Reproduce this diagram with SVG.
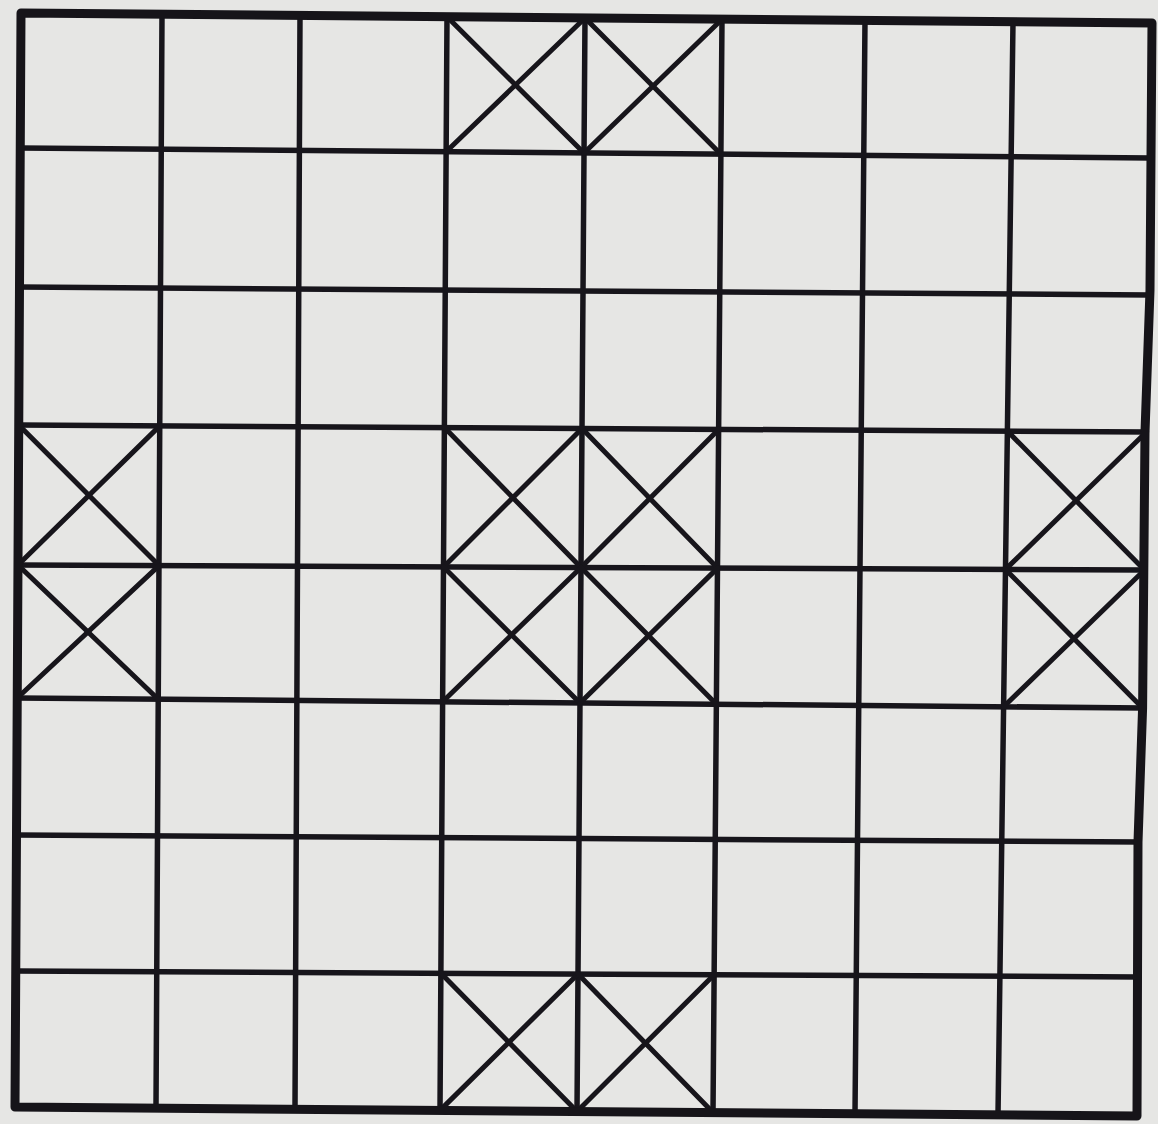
<svg xmlns="http://www.w3.org/2000/svg" width="1158" height="1124" viewBox="0 0 1158 1124">
<style>
.bg{fill:#e6e6e4}
.border{fill:none;stroke:#161419;stroke-width:9;stroke-linejoin:round}
.grid line{stroke:#17151b;stroke-width:5.5;stroke-linecap:round}
.cross line{stroke:#17151b;stroke-width:5;stroke-linecap:round}
</style>
<rect class="bg" x="0" y="0" width="1158" height="1124"/>
<g id="grid-lines" class="grid">
<line x1="162" y1="14.25" x2="156" y2="1108.1"/>
<line x1="300" y1="15.5" x2="295" y2="1109.25"/>
<line x1="447" y1="16.75" x2="440" y2="1110.4"/>
<line x1="585" y1="18" x2="577" y2="1111.5"/>
<line x1="722" y1="19.25" x2="713" y2="1112.6"/>
<line x1="865" y1="20.5" x2="855" y2="1113.75"/>
<line x1="1013" y1="21.75" x2="998" y2="1114.9"/>
<line x1="20.25" y1="148" x2="1150.1" y2="158"/>
<line x1="19.5" y1="287" x2="1149.5" y2="295"/>
<line x1="18.75" y1="425" x2="1146.4" y2="432"/>
<line x1="18" y1="565" x2="1144.5" y2="570"/>
<line x1="17.25" y1="698" x2="1142.6" y2="708"/>
<line x1="16.5" y1="835" x2="1139" y2="842"/>
<line x1="15.75" y1="971" x2="1138" y2="977"/>
</g>
<g id="crosses" class="cross">
<line x1="447" y1="16.75" x2="584" y2="153"/><line x1="585" y1="18" x2="446.1" y2="151.75"/>
<line x1="585" y1="18" x2="720.9" y2="154.25"/><line x1="722" y1="19.25" x2="584" y2="153"/>
<line x1="18.75" y1="425" x2="159" y2="565.6"/><line x1="159.75" y1="425.9" x2="18" y2="565"/>
<line x1="18" y1="565" x2="158.25" y2="699.25"/><line x1="159" y1="565.6" x2="17.25" y2="698"/>
<line x1="444.4" y1="427.6" x2="581" y2="567.5"/><line x1="582" y1="428.5" x2="443.5" y2="566.9"/>
<line x1="582" y1="428.5" x2="717.5" y2="568.1"/><line x1="718.6" y1="429.4" x2="581" y2="567.5"/>
<line x1="443.5" y1="566.9" x2="580" y2="703"/><line x1="581" y1="567.5" x2="442.6" y2="701.75"/>
<line x1="581" y1="567.5" x2="716.4" y2="704.25"/><line x1="717.5" y1="568.1" x2="580" y2="703"/>
<line x1="1007.4" y1="431.1" x2="1144.5" y2="570"/><line x1="1146.4" y1="432" x2="1005.5" y2="569.4"/>
<line x1="1005.5" y1="569.4" x2="1142.6" y2="708"/><line x1="1144.5" y1="570" x2="1003.6" y2="706.75"/>
<line x1="440.9" y1="973.25" x2="577" y2="1111.5"/><line x1="578" y1="974" x2="440" y2="1110.4"/>
<line x1="578" y1="974" x2="713" y2="1112.6"/><line x1="714.1" y1="974.75" x2="577" y2="1111.5"/>
</g>
<polygon id="border" class="border" points="21,13 1152,23 1150,290 1145,432 1142.6,708 1138,842 1137,1116 15,1107"/>
</svg>
